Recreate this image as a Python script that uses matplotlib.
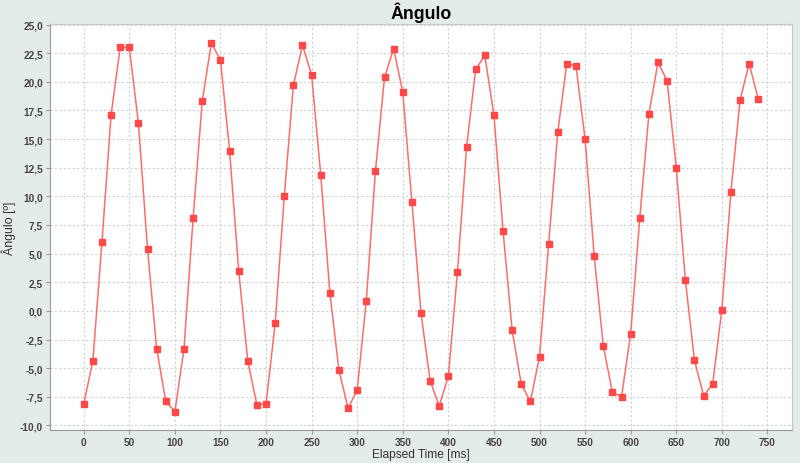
import numpy as np
import matplotlib
matplotlib.use('Agg')
import matplotlib.pyplot as plt
from matplotlib.ticker import FuncFormatter, MultipleLocator

plt.rcParams['font.family'] = ['Liberation Sans', 'DejaVu Sans']

# elapsed time [ms] and measured angle [deg]
time_ms = list(range(0, 750, 10))
angle = [
    -8.1, -4.4, 6.0, 17.1, 23.0, 23.0, 16.4, 5.4, -3.3, -7.9,
    -8.8, -3.3, 8.1, 18.3, 23.4, 21.9, 14.0, 3.5, -4.4, -8.2,
    -8.1, -1.1, 10.0, 19.7, 23.2, 20.6, 11.9, 1.6, -5.2, -8.5,
    -6.9, 0.9, 12.2, 20.4, 22.9, 19.1, 9.5, -0.2, -6.1, -8.3,
    -5.7, 3.4, 14.3, 21.1, 22.3, 17.1, 7.0, -1.7, -6.4, -7.9,
    -4.0, 5.8, 15.6, 21.6, 21.4, 15.0, 4.8, -3.1, -7.1, -7.5,
    -2.0, 8.1, 17.2, 21.7, 20.1, 12.5, 2.7, -4.3, -7.4, -6.4,
    0.1, 10.4, 18.4, 21.6, 18.5,
]

bg = '#e4ecea'
fig = plt.figure(figsize=(8.0, 4.64), dpi=100, facecolor=bg)
ax = fig.add_axes([50 / 800, 1 - 431 / 464, 742 / 800, 406 / 464])
ax.set_facecolor('white')

ax.plot(time_ms, angle, color='#ff6b6b', lw=1.1, marker='s', ms=4.6,
        mfc='#ff4848', mec='#ff4848', zorder=3)

ax.set_xlim(-37, 777)
ax.set_ylim(-10.4, 25.05)
ax.xaxis.set_major_locator(MultipleLocator(50))
ax.yaxis.set_major_locator(MultipleLocator(2.5))
ax.yaxis.set_major_formatter(FuncFormatter(lambda v, p: f'{v:.1f}'.replace('.', ',')))

ax.grid(True, color='#d0d0d0', ls=(0, (2, 2)), lw=0.8)
ax.set_axisbelow(True)
for s in ['left', 'bottom']:
    ax.spines[s].set_color('#999999')
for s in ['top', 'right']:
    ax.spines[s].set_color('#c8c8c8')
ax.tick_params(colors='#999999', labelcolor='#444444', labelsize=7.3, length=3, pad=2)
for lab in ax.get_xticklabels() + ax.get_yticklabels():
    lab.set_fontweight('bold')

ax.set_title('Ângulo', fontsize=12.8, fontweight='bold', pad=4)
ax.set_xlabel('Elapsed Time [ms]', fontsize=8.6, color='#333333')
ax.set_ylabel('Ângulo [º]', fontsize=8.9, color='#333333')
ax.xaxis.set_label_coords(0.5, -0.045)
ax.yaxis.set_label_coords(-0.046, 0.5)

fig.savefig('out.png', dpi=100, facecolor=bg)
